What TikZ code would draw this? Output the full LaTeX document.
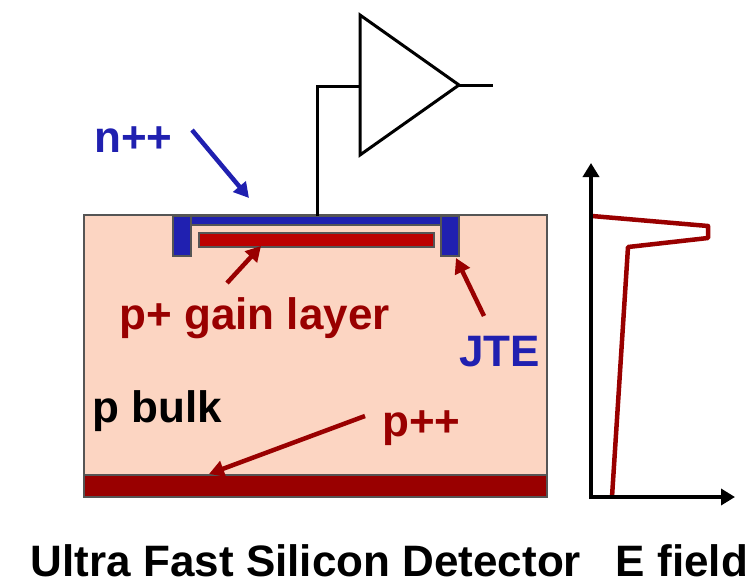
\documentclass[tikz,border=0pt]{standalone}
\usepackage{fontspec}
\setmainfont{Liberation Sans}
\usepackage{xcolor}
\usepackage{tikz}
\usetikzlibrary{positioning, arrows.meta, calc}
\definecolor{bulkpink}{HTML}{FCD5C2}
\definecolor{edgegray}{HTML}{555555}
\definecolor{nblue}{HTML}{2020B0}
\definecolor{pred}{HTML}{BB0000}
\definecolor{darkred}{HTML}{990000}
\tikzset{
	layer/.style={draw=edgegray, line width=2.5pt, anchor=north west, inner sep=0pt, outer sep=0pt},
	label/.style={font=\bfseries\fontsize{44}{44}\selectfont, inner sep=0pt, anchor=base},
	callout/.style={line width=4.5pt, -{Triangle[length=15pt, width=16pt]}},
	axisline/.style={line width=4pt, -{Triangle[length=14pt, width=16pt]}},
	wire/.style={line width=3pt}
}
\begin{document}
\begin{tikzpicture}[x=1pt, y=-1pt]
	\useasboundingbox (0,0) rectangle (755,581);
	% Detector
	\node[layer, fill=bulkpink, minimum width=463pt, minimum height=282pt] (bulk) at (84,215) {};
	\node[layer, fill=darkred, minimum width=463pt, minimum height=22pt] (backplane) at (84,475) {};
	\node[layer, fill=nblue, minimum width=18pt, minimum height=40pt] (jteleft) at (173,216) {};
	\node[layer, fill=nblue, minimum width=18pt, minimum height=40pt] (jteright) at (441,216) {};
	\node[layer, fill=nblue, minimum width=250pt, minimum height=9pt] (nlayer) at (191,216) {};
	\node[layer, fill=pred, minimum width=235pt, minimum height=14pt] (gain) at (199,233) {};
	% Amplifier
	\coordinate (ampin) at (360,86);
	\coordinate (ampout) at (493,85);
	\coordinate (wiretop) at (317,86);
	\coordinate (wirebase) at (317,216);
	\coordinate (amptip) at (459,85);
	\draw[wire, fill=white, line join=miter] (360,15) -- (amptip) -- (360,155) -- cycle;
	\draw[wire] (wirebase) -- (wiretop) -- (ampin);
	\draw[wire] (amptip) -- (ampout);
	% Labels
	\node[label, text=nblue] (nlabel) at (133.5,152) {n++};
	\node[label, text=darkred] (gainlabel) at (254.5,329) {p+ gain layer};
	\node[label, text=nblue] (jtelabel) at (499.5,366) {JTE};
	\node[label] (bulklabel) at (157,422) {p bulk};
	\node[label, text=darkred] (pluslabel) at (421.5,436) {p++};
	\node[label] (detectorlabel) at (306,576) {Ultra Fast Silicon Detector};
	\node[label] (fieldlabel) at (682,576) {E field};
	% Callouts
	\coordinate (nfrom) at (192,130);
	\coordinate (nto) at (249,198);
	\coordinate (gainfrom) at (227,283);
	\coordinate (gainto) at (261,246);
	\coordinate (jtefrom) at (484,316);
	\coordinate (jteto) at (456,258);
	\coordinate (plusfrom) at (365,416);
	\coordinate (plusto) at (209,474);
	\draw[callout, draw=nblue, fill=nblue] (nfrom) -- (nto);
	\draw[callout, draw=darkred, fill=darkred] (gainfrom) -- (gainto);
	\draw[callout, draw=darkred, fill=darkred] (jtefrom) -- (jteto);
	\draw[callout, draw=darkred, fill=darkred] (plusfrom) -- (plusto);
	% E field plot
	\coordinate (origin) at (591,497);
	\coordinate (ytip) at (591,163);
	\coordinate (xtip) at (735,497);
	\draw[line width=4.5pt, draw=darkred, line join=round] (592,216) -- (708,226) -- (708,238) -- (628,247) -- (612,497);
	\draw[axisline] ($(origin)+(0,2)$) -- (ytip);
	\draw[axisline] ($(origin)+(-2,0)$) -- (xtip);
\end{tikzpicture}
\end{document}
